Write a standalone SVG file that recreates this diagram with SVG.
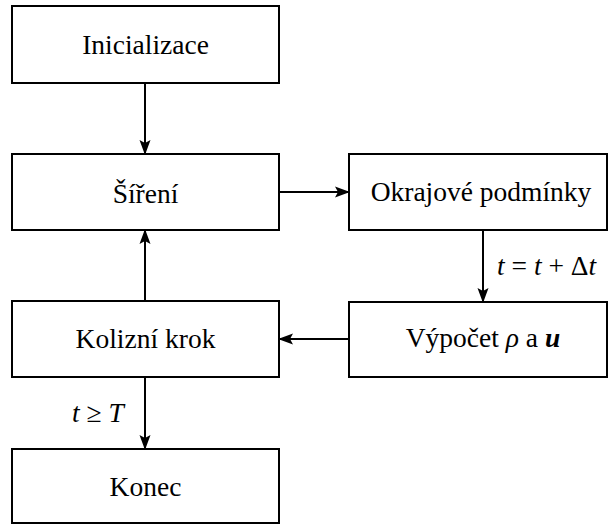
<svg xmlns="http://www.w3.org/2000/svg" width="609" height="525" viewBox="0 0 609 525">
<defs>
<marker id="ah" markerUnits="userSpaceOnUse" markerWidth="16" markerHeight="12" refX="14" refY="6" orient="auto" viewBox="0 0 16 12">
<path d="M0,0.5 L15,6 L0,11.5 L3,6 z" fill="#000"/>
</marker>
</defs>
<g id="connectors" stroke="#000" stroke-width="2" fill="none">
<line x1="145" y1="83" x2="145" y2="154" marker-end="url(#ah)"/>
<line x1="279" y1="192" x2="349" y2="192" marker-end="url(#ah)"/>
<line x1="483" y1="230" x2="483" y2="302" marker-end="url(#ah)"/>
<line x1="349" y1="339" x2="279" y2="339" marker-end="url(#ah)"/>
<line x1="145" y1="301" x2="145" y2="230" marker-end="url(#ah)"/>
<line x1="145" y1="377" x2="145" y2="449" marker-end="url(#ah)"/>
</g>
<g id="labels" fill="#000" font-family="Times New Roman, Liberation Serif, serif" font-size="27.5">
<text x="497" y="275"><tspan font-style="italic">t</tspan> = <tspan font-style="italic">t</tspan> + Δ<tspan font-style="italic">t</tspan></text>
<text x="72" y="422"><tspan font-style="italic">t</tspan> ≥ <tspan font-style="italic">T</tspan></text>
</g>
<g id="inicializace" font-family="Times New Roman, Liberation Serif, serif" font-size="27.5">
<rect x="12" y="6" width="267" height="77" fill="#fff" stroke="#000" stroke-width="2"/>
<text x="145.5" y="54" text-anchor="middle">Inicializace</text>
</g>
<g id="sireni" font-family="Times New Roman, Liberation Serif, serif" font-size="27.5">
<rect x="12" y="154" width="267" height="76" fill="#fff" stroke="#000" stroke-width="2"/>
<text x="145.5" y="203" text-anchor="middle">Šíření</text>
</g>
<g id="okrajove" font-family="Times New Roman, Liberation Serif, serif" font-size="27.5">
<rect x="349" y="154" width="258" height="76" fill="#fff" stroke="#000" stroke-width="2"/>
<text x="481" y="201" text-anchor="middle">Okrajové podmínky</text>
</g>
<g id="vypocet" font-family="Times New Roman, Liberation Serif, serif" font-size="27.5">
<rect x="349" y="302" width="258" height="75" fill="#fff" stroke="#000" stroke-width="2"/>
<text x="483" y="347" text-anchor="middle">Výpočet <tspan font-style="italic">ρ</tspan> a <tspan font-style="italic" font-weight="bold">u</tspan></text>
</g>
<g id="kolizni" font-family="Times New Roman, Liberation Serif, serif" font-size="27.5">
<rect x="12" y="301" width="267" height="76" fill="#fff" stroke="#000" stroke-width="2"/>
<text x="145.5" y="348" text-anchor="middle">Kolizní krok</text>
</g>
<g id="konec" font-family="Times New Roman, Liberation Serif, serif" font-size="27.5">
<rect x="12" y="449" width="267" height="74" fill="#fff" stroke="#000" stroke-width="2"/>
<text x="145.5" y="496" text-anchor="middle">Konec</text>
</g>
</svg>
